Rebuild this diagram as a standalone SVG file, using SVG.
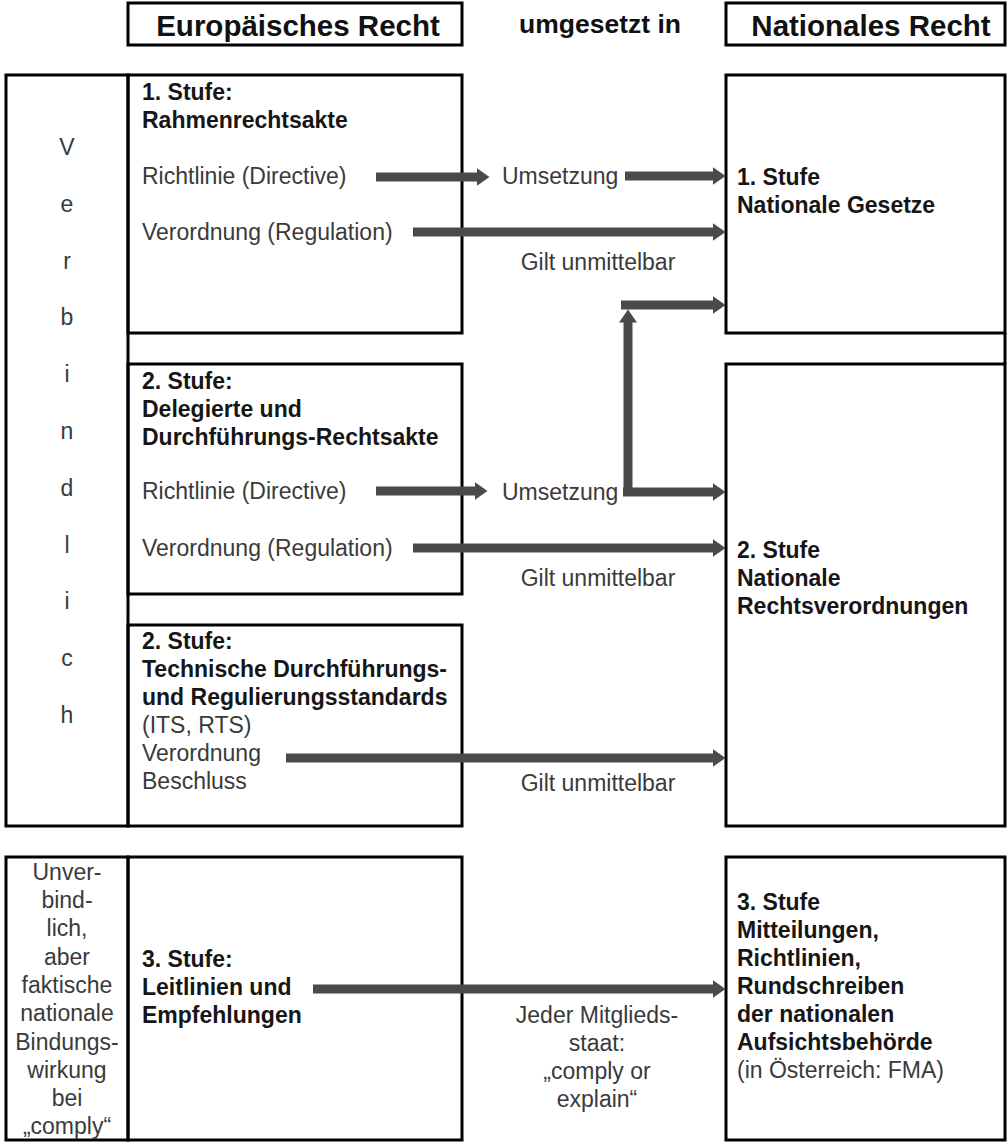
<svg xmlns="http://www.w3.org/2000/svg" width="1008" height="1144" viewBox="0 0 1008 1144">
<defs>
<style>
.box{fill:none;stroke:#000;stroke-width:3}
.t{font-family:"Liberation Sans",Arial,sans-serif;font-size:23px;fill:#3a3a3a}
.b{font-family:"Liberation Sans",Arial,sans-serif;font-size:23px;font-weight:bold;fill:#161616}
.h{font-family:"Liberation Sans",Arial,sans-serif;font-size:29.5px;font-weight:bold;fill:#111}
.c{text-anchor:middle}
.arr{fill:none;stroke:#4a4a4a;stroke-width:9;marker-end:url(#ah)}
</style>
<marker id="ah" markerUnits="userSpaceOnUse" markerWidth="14" markerHeight="18" refX="0.5" refY="9" orient="auto">
<path d="M0,0 L13,9 L0,18 Z" fill="#4a4a4a"/>
</marker>
</defs>
<rect width="1008" height="1144" fill="#fff"/>

<g id="header-eu">
<rect class="box" x="128" y="3" width="334" height="42"/>
<text class="h c" x="298" y="36">Europäisches Recht</text>
</g>
<g id="header-mid">
<text class="h c" x="600" y="33" style="font-size:26.5px">umgesetzt in</text>
</g>
<g id="header-nat">
<rect class="box" x="726" y="3" width="279" height="42"/>
<text class="h c" x="871" y="36">Nationales Recht</text>
</g>

<g id="verbindlich">
<rect class="box" x="6" y="75" width="122" height="751"/>
<text class="t c" x="67" y="155">V</text>
<text class="t c" x="67" y="212">e</text>
<text class="t c" x="67" y="269">r</text>
<text class="t c" x="67" y="325">b</text>
<text class="t c" x="67" y="382">i</text>
<text class="t c" x="67" y="439">n</text>
<text class="t c" x="67" y="496">d</text>
<text class="t c" x="67" y="553">l</text>
<text class="t c" x="67" y="609">i</text>
<text class="t c" x="67" y="666">c</text>
<text class="t c" x="67" y="723">h</text>
</g>

<g id="eu-stufe1">
<rect class="box" x="128" y="75" width="334" height="258"/>
<text class="b" x="142" y="100">1. Stufe:</text>
<text class="b" x="142" y="128">Rahmenrechtsakte</text>
<text class="t" x="142" y="184">Richtlinie (Directive)</text>
<text class="t" x="142" y="240">Verordnung (Regulation)</text>
</g>

<g id="eu-stufe2">
<rect class="box" x="128" y="364" width="334" height="230"/>
<text class="b" x="142" y="389">2. Stufe:</text>
<text class="b" x="142" y="417">Delegierte und</text>
<text class="b" x="142" y="445">Durchführungs-Rechtsakte</text>
<text class="t" x="142" y="499">Richtlinie (Directive)</text>
<text class="t" x="142" y="556">Verordnung (Regulation)</text>
</g>

<g id="eu-stufe2-its">
<rect class="box" x="128" y="625" width="334" height="201"/>
<text class="b" x="142" y="649">2. Stufe:</text>
<text class="b" x="142" y="677">Technische Durchführungs-</text>
<text class="b" x="142" y="705">und Regulierungsstandards</text>
<text class="t" x="142" y="733">(ITS, RTS)</text>
<text class="t" x="142" y="761">Verordnung</text>
<text class="t" x="142" y="789">Beschluss</text>
</g>

<g id="unverbindlich">
<rect class="box" x="6" y="857" width="122" height="283"/>
<text class="t c" x="67" y="880">Unver-</text>
<text class="t c" x="67" y="908">bind-</text>
<text class="t c" x="67" y="936">lich,</text>
<text class="t c" x="67" y="965">aber</text>
<text class="t c" x="67" y="993">faktische</text>
<text class="t c" x="67" y="1021">nationale</text>
<text class="t c" x="67" y="1050">Bindungs-</text>
<text class="t c" x="67" y="1078">wirkung</text>
<text class="t c" x="67" y="1106">bei</text>
<text class="t c" x="67" y="1134">„comply“</text>
</g>

<g id="eu-stufe3">
<rect class="box" x="128" y="857" width="334" height="283"/>
<text class="b" x="142" y="967">3. Stufe:</text>
<text class="b" x="142" y="995">Leitlinien und</text>
<text class="b" x="142" y="1023">Empfehlungen</text>
</g>

<g id="nat-stufe1">
<rect class="box" x="726" y="75" width="279" height="258"/>
<text class="b" x="737" y="185">1. Stufe</text>
<text class="b" x="737" y="213">Nationale Gesetze</text>
</g>
<line x1="1005" y1="333" x2="1005" y2="364" stroke="#000" stroke-width="3"/>

<g id="nat-stufe2">
<rect class="box" x="726" y="364" width="279" height="462"/>
<text class="b" x="737" y="558">2. Stufe</text>
<text class="b" x="737" y="586">Nationale</text>
<text class="b" x="737" y="614">Rechtsverordnungen</text>
</g>

<g id="nat-stufe3">
<rect class="box" x="726" y="857" width="279" height="283"/>
<text class="b" x="737" y="910">3. Stufe</text>
<text class="b" x="737" y="938">Mitteilungen,</text>
<text class="b" x="737" y="966">Richtlinien,</text>
<text class="b" x="737" y="994">Rundschreiben</text>
<text class="b" x="737" y="1022">der nationalen</text>
<text class="b" x="737" y="1050">Aufsichtsbehörde</text>
<text class="t" x="737" y="1078">(in Österreich: FMA)</text>
</g>

<g id="labels">
<text class="t" x="502" y="184">Umsetzung</text>
<text class="t c" x="598" y="270">Gilt unmittelbar</text>
<text class="t" x="502" y="500">Umsetzung</text>
<text class="t c" x="598" y="586">Gilt unmittelbar</text>
<text class="t c" x="598" y="791">Gilt unmittelbar</text>
<text class="t c" x="597" y="1023">Jeder Mitglieds-</text>
<text class="t c" x="597" y="1051">staat:</text>
<text class="t c" x="597" y="1079">„comply or</text>
<text class="t c" x="597" y="1107">explain“</text>
</g>

<g id="connectors">
<line class="arr" x1="376" y1="177" x2="477" y2="177"/>
<line class="arr" x1="625" y1="176" x2="713" y2="176"/>
<line class="arr" x1="413" y1="232" x2="713" y2="232"/>
<line class="arr" x1="376" y1="491" x2="475" y2="491"/>
<line class="arr" x1="623" y1="492" x2="713" y2="492"/>
<line class="arr" x1="628" y1="496" x2="628" y2="322"/>
<line class="arr" x1="621" y1="305" x2="713" y2="305"/>
<line class="arr" x1="413" y1="548" x2="713" y2="548"/>
<line class="arr" x1="286" y1="758" x2="713" y2="758"/>
<line class="arr" x1="313" y1="989" x2="713" y2="989"/>
</g>
</svg>
